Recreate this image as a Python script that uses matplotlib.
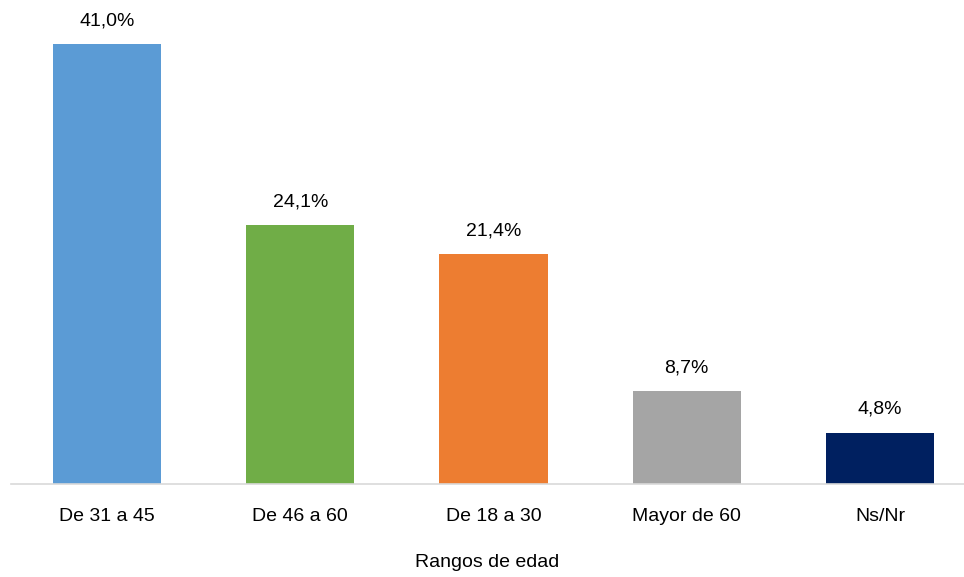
import matplotlib.pyplot as plt

categories = ['De 31 a 45', 'De 46 a 60', 'De 18 a 30', 'Mayor de 60', 'Ns/Nr']
values = [41.0, 24.1, 21.4, 8.7, 4.8]
colors = ['#5B9BD5', '#70AD47', '#ED7D31', '#A5A5A5', '#002060']

plt.rcParams['font.family'] = ['Liberation Sans Narrow', 'Liberation Sans', 'DejaVu Sans']

fig = plt.figure(figsize=(9.64, 5.77), dpi=100)
ax = fig.add_axes([0.0114, 0.161, 0.9886, 0.839])

x = list(range(len(categories)))
bars = ax.bar(x, values, width=0.56, color=colors, zorder=2)

for xi, v in zip(x, values):
    ax.annotate(f'{v:.1f}%'.replace('.', ','), (xi, v), xytext=(0, 10.5),
                textcoords='offset points', ha='center', va='bottom',
                fontsize=14, color='#000000')

ax.set_xlim(-0.497, 4.435)
ax.set_ylim(0, 45.1)
ax.set_xticks(x)
ax.set_xticklabels(categories, fontsize=14)
ax.tick_params(axis='x', length=0, pad=17)
ax.set_yticks([])
for s in ['top', 'right', 'left']:
    ax.spines[s].set_visible(False)
ax.spines['bottom'].set_color('#D9D9D9')
ax.spines['bottom'].set_linewidth(1.2)
ax.set_xlabel('Rangos de edad', fontsize=14, labelpad=21)

fig.savefig('out.png', dpi=100)
